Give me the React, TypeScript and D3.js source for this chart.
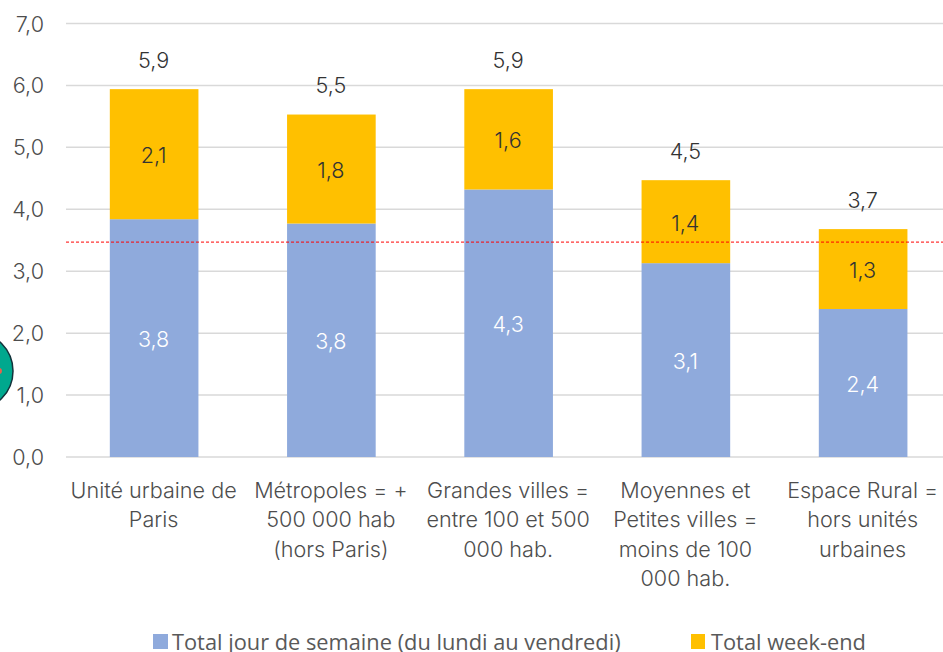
import React from "react";
import * as d3 from "d3";

const categories: string[][] = [
  ["Unité urbaine de", "Paris"],
  ["Métropoles = +", "500 000 hab", "(hors Paris)"],
  ["Grandes villes =", "entre 100 et 500", "000 hab."],
  ["Moyennes et", "Petites villes =", "moins de 100", "000 hab."],
  ["Espace Rural =", "hors unités", "urbaines"],
];
const weekdayValues = [3.84, 3.77, 4.32, 3.13, 2.39];
const weekendValues = [2.1, 1.76, 1.62, 1.34, 1.29];
const weekdayLabels = ["3,8", "3,8", "4,3", "3,1", "2,4"];
const weekendLabels = ["2,1", "1,8", "1,6", "1,4", "1,3"];
const totalLabels = ["5,9", "5,5", "5,9", "4,5", "3,7"];
const yTicks = [0, 1, 2, 3, 4, 5, 6, 7];
const referenceValue = 3.47;

const FONT = "Inter, sans-serif";
const LEGEND_FONT = "'Open Sans', sans-serif";
const BLUE = "#8faadc";
const GOLD = "#ffc000";
const W = 300;
const FS = 21.6;

export default function App() {
  const y = d3.scaleLinear().domain([0, 7]).range([457, 23.5]);
  const x = d3
    .scaleBand<number>()
    .domain(categories.map((_, i) => i))
    .range([65.5, 951.75])
    .paddingInner(0.5)
    .paddingOuter(0.25);
  const fmt = (v: number) => v.toFixed(1).replace(".", ",");
  return (
    <svg
      width={943}
      height={652}
      style={{ position: "fixed", left: 0, top: 0, background: "#fff" }}
    >
      {yTicks.map((t) => (
        <g key={t}>
          <line x1={66} x2={943} y1={y(t)} y2={y(t)} stroke="#d9d9d9" strokeWidth={1.5} />
          <text x={44} y={y(t) + 8} textAnchor="end" fontFamily={FONT} fontWeight={W} fontSize={FS} fill="#4d4d4d">
            {fmt(t)}
          </text>
        </g>
      ))}
      <circle cx={-26} cy={371} r={39} fill="#00a88e" stroke="#12323a" strokeWidth={1.5} />
      <circle cx={-1} cy={371} r={3} fill="#e8604c" />
      {categories.map((lines, i) => {
        const bx = x(i)!;
        const w = x.bandwidth();
        const cx = bx + w / 2;
        const wd = weekdayValues[i];
        const total = wd + weekendValues[i];
        return (
          <g key={i}>
            <rect x={bx} y={y(wd)} width={w} height={y(0) - y(wd)} fill={BLUE} />
            <rect x={bx} y={y(total)} width={w} height={y(wd) - y(total)} fill={GOLD} />
            <text x={cx - 0.5} y={y(wd / 2) + 9} textAnchor="middle" fontFamily={FONT} fontWeight={W} fontSize={FS} fill="#ffffff">
              {weekdayLabels[i]}
            </text>
            <text x={cx - 0.5} y={y(wd + weekendValues[i] / 2) + 9} textAnchor="middle" fontFamily={FONT} fontWeight={W} fontSize={FS} fill="#333333">
              {weekendLabels[i]}
            </text>
            <text x={cx - 0.5} y={y(total) - 21.5} textAnchor="middle" fontFamily={FONT} fontWeight={W} fontSize={FS} fill="#333333">
              {totalLabels[i]}
            </text>
            {lines.map((l, j) => (
              <text key={j} x={cx - 0.5} y={497.5 + j * 29.5} textAnchor="middle" fontFamily={FONT} fontWeight={W} fontSize={FS} fill="#4d4d4d">
                {l}
              </text>
            ))}
          </g>
        );
      })}
      <line
        x1={66}
        x2={943}
        y1={y(referenceValue)}
        y2={y(referenceValue)}
        stroke="#ff0000"
        strokeWidth={1}
        strokeDasharray="3 2"
      />
      <rect x={153} y={634} width={15} height={15} fill={BLUE} />
      <text x={172} y={649.5} fontFamily={LEGEND_FONT} fontSize={21.8} fill="#595959">
        Total jour de semaine (du lundi au vendredi)
      </text>
      <rect x={691} y={634} width={14} height={15} fill={GOLD} />
      <text x={711} y={649.5} fontFamily={LEGEND_FONT} fontSize={21.8} fill="#595959">
        Total week-end
      </text>
    </svg>
  );
}
